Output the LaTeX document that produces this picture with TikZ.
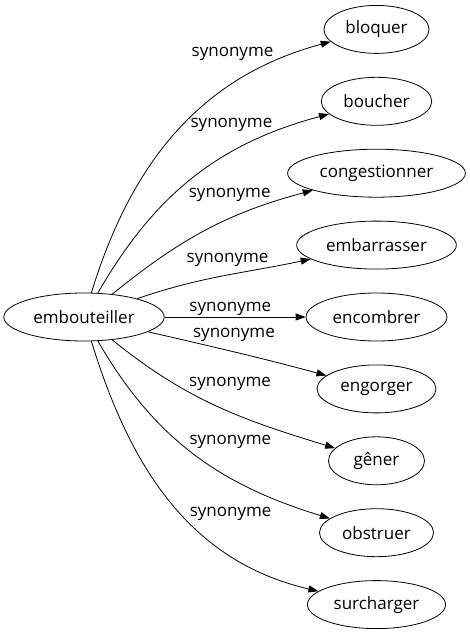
\documentclass[tikz,border=0pt]{standalone}
\usepackage{fontspec}
\setmainfont{Open Sans}
\usetikzlibrary{arrows.meta,positioning,shapes.geometric}

\begin{document}
\begin{tikzpicture}[->,>={Triangle[length=10pt,width=7pt]},line width=0.8pt,
                    node distance=71.9pt,font=\fontsize{17}{20}\selectfont]
  \tikzstyle{mot}=[ellipse,draw,minimum width=96pt,minimum height=48pt,inner xsep=6pt,inner ysep=3pt]
  \tikzstyle{syn}=[inner sep=0.5pt]
  \useasboundingbox (-84pt,-318pt) rectangle (385pt,317pt);

  \node[mot] (E) {embouteiller};
  \node[mot] (En) [node distance=292.5pt,right of=E] {encombrer};
  \node[mot] (Em) [above of=En] {embarrasser};
  \node[mot] (Co) [above of=Em] {congestionner};
  \node[mot] (Bo) [above of=Co] {boucher};
  \node[mot] (Bl) [above of=Bo] {bloquer};
  \node[mot] (Eg) [below of=En] {engorger};
  \node[mot] (Ge) [below of=Eg] {gêner};
  \node[mot] (Ob) [below of=Ge] {obstruer};
  \node[mot] (Su) [below of=Ob] {surcharger};

  \path (E) edge [out=73,in=195] node [syn,pos=.845,anchor=south east] {synonyme} (Bl)
            edge [out=60,in=195] node [syn,pos=.818,anchor=south east] {synonyme} (Bo)
            edge [out=39,in=195] node [syn,pos=.826,anchor=south east] {synonyme} (Co)
            edge [out=19,in=192] node [syn,pos=.78,anchor=south east] {synonyme} (Em)
            edge node [syn,pos=.466,above=1pt] {synonyme} (En)
            edge [out=-13,in=165] node [syn,pos=.23,anchor=south west] {synonyme} (Eg)
            edge [out=-39,in=163] node [syn,pos=.36,anchor=south west] {synonyme} (Ge)
            edge [out=-60,in=163] node [syn,pos=.474,anchor=south west] {synonyme} (Ob)
            edge [out=-73,in=167] node [syn,pos=.578,anchor=south west] {synonyme} (Su);
\end{tikzpicture}
\end{document}
